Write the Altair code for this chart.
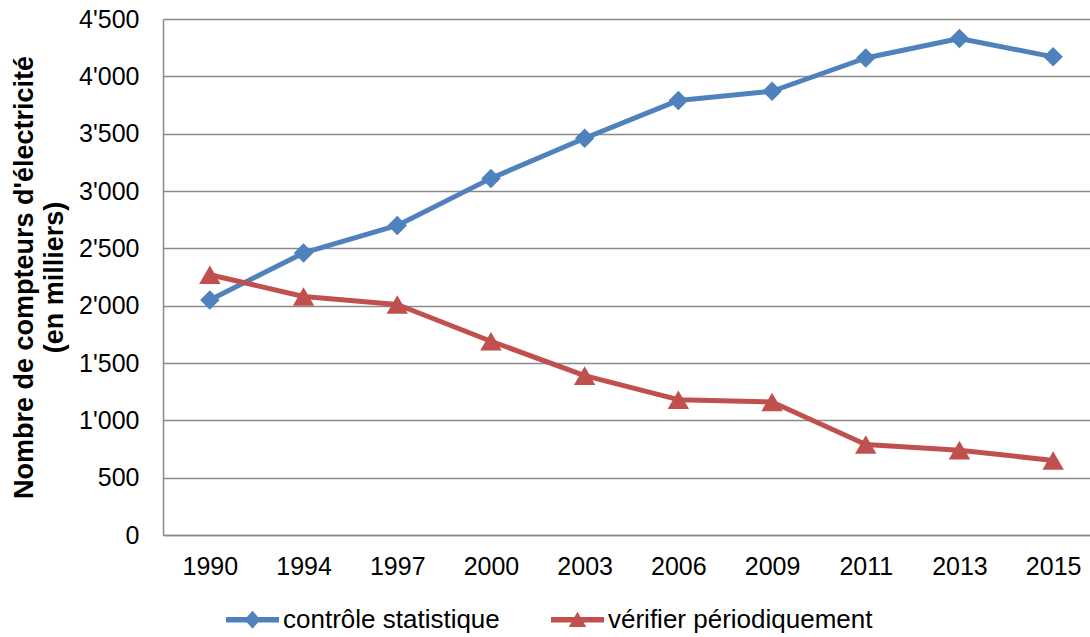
import altair as alt
import pandas as pd

# Compteurs d'électricité (en milliers) selon le mode de contrôle
annees = ["1990", "1994", "1997", "2000", "2003", "2006", "2009", "2011", "2013", "2015"]
controle_statistique = [2050, 2460, 2700, 3110, 3460, 3790, 3870, 4160, 4330, 4170]
verifier_periodiquement = [2270, 2080, 2010, 1690, 1390, 1180, 1160, 790, 740, 650]
series = ["contrôle statistique", "vérifier périodiquement"]
y_ticks = [0, 500, 1000, 1500, 2000, 2500, 3000, 3500, 4000, 4500]

colors = ["#4F81BD", "#C0504D"]
markers = ["diamond", "triangle-up"]
marker_sizes = [380, 460]
font = "Liberation Sans"

rows = []
for a, v in zip(annees, controle_statistique):
    rows.append({"Année": a, "Valeur": v, "Série": series[0]})
for a, v in zip(annees, verifier_periodiquement):
    rows.append({"Année": a, "Valeur": v, "Série": series[1]})
df = pd.DataFrame(rows)

x_enc = alt.X(
    "Année:O",
    sort=annees,
    scale=alt.Scale(type="point", padding=0.5, range=[0, 937]),
    axis=alt.Axis(
        title=None,
        labelAngle=0,
        ticks=False,
        labelPadding=19,
        labelFontSize=25,
        labelFont=font,
        labelColor="#000000",
        domainColor="#8a8a8a",
        domainWidth=1.5,
        grid=False,
    ),
)
y_enc = alt.Y(
    "Valeur:Q",
    scale=alt.Scale(domain=[0, 4500], nice=False),
    axis=alt.Axis(
        values=y_ticks,
        labelExpr="replace(format(datum.value, ','), ',', \"'\")",
        title=["Nombre de compteurs d'électricité", "(en milliers)"],
        titleFont=font,
        titleFontSize=27,
        titleFontWeight="bold",
        titleColor="#000000",
        titleAngle=270,
        titleAlign="center",
        titleBaseline="top",
        titleX=-152,
        titleY=258,
        titleLineHeight=30,
        ticks=False,
        labelPadding=24,
        labelFontSize=25,
        labelFont=font,
        labelColor="#000000",
        domainColor="#8a8a8a",
        domainWidth=1.5,
        gridColor="#8a8a8a",
        gridWidth=1.5,
    ),
)

base = alt.Chart(df)
layers = []
# one line + marker layer per series
for name, col, shp, sz in zip(series, colors, markers, marker_sizes):
    sub = base.transform_filter(alt.datum["Série"] == name)
    layers.append(
        sub.mark_line(strokeWidth=5, strokeJoin="round", strokeCap="round", color=col).encode(x=x_enc, y=y_enc)
    )
for name, col, shp, sz in zip(series, colors, markers, marker_sizes):
    sub = base.transform_filter(alt.datum["Série"] == name)
    layers.append(
        sub.mark_point(filled=True, opacity=1, size=sz, shape=shp, color=col).encode(x=x_enc, y=y_enc)
    )

# Legend symbols: a line segment with the series marker in its middle
legend_paths = [
    "M-1,-0.1L1,-0.1L1,0.1L-1,0.1Z M0,-0.34L0.3,0L0,0.34L-0.3,0Z",
    "M-1,-0.1L1,-0.1L1,0.1L-1,0.1Z M0,-0.3L0.33,0.27L-0.33,0.27Z",
]
legend_def = alt.Legend(
    title=None,
    orient="none",
    direction="horizontal",
    legendX=63,
    legendY=574,
    labelFont=font,
    labelFontSize=26,
    labelColor="#000000",
    labelOffset=4,
    labelLimit=0,
    columnPadding=51,
    symbolSize=2809,
    symbolStrokeWidth=0,
    symbolOpacity=1,
    padding=0,
)
legend_layer = base.mark_point(filled=True, opacity=0, size=2809).encode(
    x=x_enc,
    y=y_enc,
    color=alt.Color("Série:N", scale=alt.Scale(domain=series, range=colors), legend=legend_def),
    shape=alt.Shape("Série:N", scale=alt.Scale(domain=series, range=legend_paths), legend=legend_def),
)
layers.append(legend_layer)

chart = (
    alt.layer(*layers)
    .properties(
        width=927,
        height=516,
        padding={"left": 163, "top": 19, "right": 0, "bottom": 102},
        autosize=alt.AutoSizeParams(type="none"),
        background="#ffffff",
    )
    .configure_view(stroke=None)
)

chart.save("out.html", embed_options={"renderer": "svg", "actions": False})
